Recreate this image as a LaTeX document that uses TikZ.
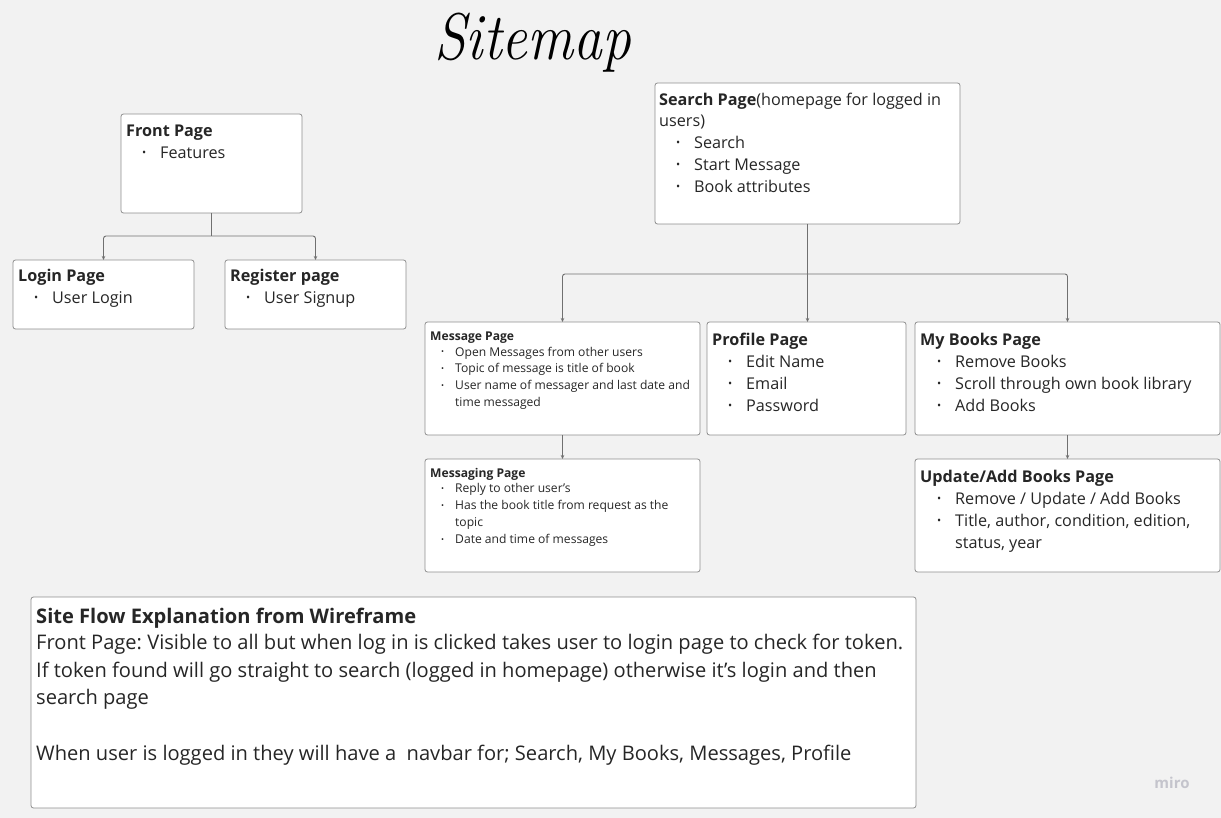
\documentclass[tikz,border=0pt]{standalone}
\usepackage{fontspec}
\setmainfont{Open Sans}
\newfontfamily\titlefont{Latin Modern Roman}
\usetikzlibrary{arrows.meta}
\definecolor{bg}{HTML}{F2F2F2}
\definecolor{bd}{HTML}{8E8E8E}
\definecolor{ln}{HTML}{707070}
\definecolor{tx}{HTML}{262626}
\definecolor{mirogray}{HTML}{C4C4CC}
\frenchspacing
\begin{document}
\begin{tikzpicture}[x=1pt,y=-1pt,
  box/.style={draw=bd, fill=white, rounded corners=2.5pt, line width=0.8pt, inner sep=0pt, outer sep=0pt, anchor=north west},
  conn/.style={draw=ln, line width=0.9pt, rounded corners=2.5pt, -{Stealth[length=4pt,width=3.5pt]}},
  plain/.style={draw=ln, line width=0.9pt},
  t/.style={font=\fontsize{16.2}{19}\selectfont, text=tx, inner sep=0pt, anchor=base west, yshift=-1pt},
  tb/.style={t, font=\fontsize{16.2}{19}\selectfont\bfseries},
  bu/.style={font=\fontsize{11}{11}\selectfont, text=tx, inner sep=0pt, anchor=base west, yshift=-1pt},
  s/.style={font=\fontsize{12.1}{14}\selectfont, text=tx, inner sep=0pt, anchor=base west, yshift=-0.5pt},
  sb/.style={s, font=\fontsize{12.1}{14}\selectfont\bfseries},
  sbu/.style={font=\fontsize{8}{8}\selectfont, text=tx, inner sep=0pt, anchor=base west, yshift=-0.5pt},
  f/.style={font=\fontsize{20.1}{23}\selectfont, text=tx, inner sep=0pt, anchor=base west, yshift=-1pt},
  fb/.style={f, font=\fontsize{20.1}{23}\selectfont\bfseries},
]
\useasboundingbox (0,0) rectangle (1221,818);
\fill[bg] (0,0) rectangle (1221,818);

% title
\node[inner sep=0pt, anchor=base west, text=black] (title) at (434,60) {\scalebox{0.87}[1]{\titlefont\itshape\fontsize{66}{70}\selectfont Sitemap}};

% boxes
\node[box, minimum width=181, minimum height=99] (front) at (121,114) {};
\node[box, minimum width=181, minimum height=69] (login) at (13,260) {};
\node[box, minimum width=181, minimum height=69] (register) at (225,260) {};
\node[box, minimum width=305, minimum height=141] (search) at (655,83) {};
\node[box, minimum width=275, minimum height=113] (msg) at (425,322) {};
\node[box, minimum width=199, minimum height=113] (profile) at (707,322) {};
\node[box, minimum width=305, minimum height=113] (books) at (915,322) {};
\node[box, minimum width=275, minimum height=113] (msging) at (425,459) {};
\node[box, minimum width=305, minimum height=113] (update) at (915,459) {};
\node[box, minimum width=885, minimum height=211] (flow) at (31,597) {};

% connectors
\path (front.south) ++(0,23) coordinate (fj);
\draw[plain] (front.south) -- (fj);
\draw[conn] (fj) -| (login.north);
\draw[conn] (fj) -| (register.north);
\path (search.south) ++(0,50) coordinate (sj);
\draw[plain] (search.south) -- (sj);
\draw[conn] (sj) -| (msg.north);
\draw[conn] (sj) -| (books.north);
\draw[conn] (search.south) -- (search.south |- profile.north);
\draw[conn] (msg.south) -- (msging.north);
\draw[conn] (books.south) -- (update.north);

% Front page
\node[tb] (frontT) at (126,136) {Front Page};
\node[bu] (frontB1) at (142,156) {•};
\node[t] (frontL1) at (160,158) {Features};

% Login
\node[tb] (loginT) at (18,281) {Login Page};
\node[bu] (loginB1) at (34,301) {•};
\node[t] (loginL1) at (52,303) {User Login};

% Register
\node[tb] (regT) at (230,281) {Register page};
\node[bu] (regB1) at (246,301) {•};
\node[t] (regL1) at (264,303) {User Signup};

% Search
\node[t] (searchT) at (659,105) {\textbf{Search Page}(homepage for logged in};
\node[t] (searchT2) at (659,126) {users)};
\node[bu] (searchB1) at (676,146) {•};
\node[t] (searchL1) at (694,148) {Search};
\node[bu] (searchB2) at (676,168) {•};
\node[t] (searchL2) at (694,170) {Start Message};
\node[bu] (searchB3) at (676,190) {•};
\node[t] (searchL3) at (694,192) {Book attributes};

% Message page
\node[sb] (msgT) at (430,340) {Message Page};
\node[sbu] (msgB1) at (441,354.5) {•};
\node[s] (msgL1) at (455,356) {Open Messages from other users};
\node[sbu] (msgB2) at (441,370.5) {•};
\node[s] (msgL2) at (455,372) {Topic of message is title of book};
\node[sbu] (msgB3) at (441,387.5) {•};
\node[s] (msgL3) at (455,389) {User name of messager and last date and};
\node[s] (msgL4) at (455,405.5) {time messaged};

% Profile
\node[tb] (profT) at (712,344) {Profile Page};
\node[bu] (profB1) at (728,364) {•};
\node[t] (profL1) at (746,366) {Edit Name};
\node[bu] (profB2) at (728,386) {•};
\node[t] (profL2) at (746,388) {Email};
\node[bu] (profB3) at (728,408) {•};
\node[t] (profL3) at (746,410) {Password};

% My books
\node[tb] (booksT) at (920,344) {My Books Page};
\node[bu] (booksB1) at (937,364) {•};
\node[t] (booksL1) at (955,366) {Remove Books};
\node[bu] (booksB2) at (937,386) {•};
\node[t] (booksL2) at (955,388) {Scroll through own book library};
\node[bu] (booksB3) at (937,408) {•};
\node[t] (booksL3) at (955,410) {Add Books};

% Messaging
\node[sb] (mgT) at (430,477) {Messaging Page};
\node[sbu] (mgB1) at (441,490.5) {•};
\node[s] (mgL1) at (455,492) {Reply to other user's};
\node[sbu] (mgB2) at (441,507.5) {•};
\node[s] (mgL2) at (455,509) {Has the book title from request as the};
\node[s] (mgL3) at (455,526) {topic};
\node[sbu] (mgB3) at (441,541.5) {•};
\node[s] (mgL4) at (455,543) {Date and time of messages};

% Update
\node[tb] (updT) at (920,481) {Update/Add Books Page};
\node[bu] (updB1) at (937,501) {•};
\node[t] (updL1) at (955,503) {Remove / Update / Add Books};
\node[bu] (updB2) at (937,523) {•};
\node[t] (updL2) at (955,525) {Title, author, condition, edition,};
\node[t] (updL3) at (955,547) {status, year};

% Site flow
\node[fb] (flowT) at (36,622) {Site Flow Explanation from Wireframe};
\node[f] (flowL1) at (36,648) {Front Page: Visible to all but when log in is clicked takes user to login page to check for token.};
\node[f] (flowL2) at (36,676) {If token found will go straight to search (logged in homepage) otherwise it's login and then};
\node[f] (flowL3) at (36,703) {search page};
\node[f] (flowL4) at (36,759) {When user is logged in they will have a\ \ navbar for; Search, My Books, Messages, Profile};

% miro mark
\node[font=\fontsize{15}{15}\selectfont\bfseries, text=mirogray, inner sep=0pt] (miro) at (1172,783) {miro};
\end{tikzpicture}
\end{document}
